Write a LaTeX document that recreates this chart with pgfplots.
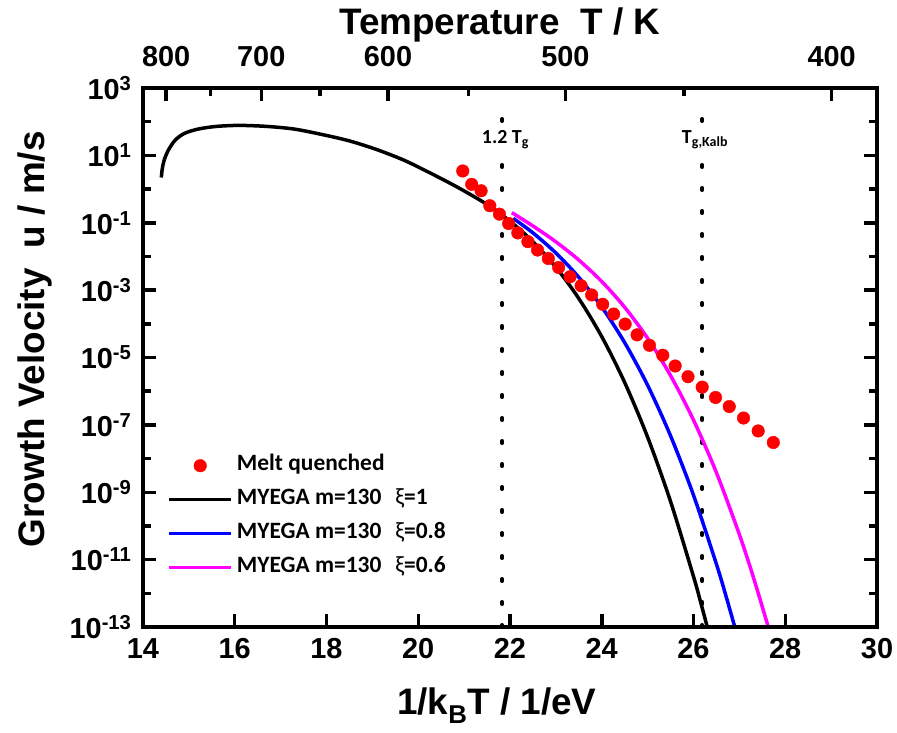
\documentclass[border=0pt]{standalone}
\usepackage{fontspec}
\setmainfont{Liberation Sans}
\newfontfamily\cali{Carlito}
\usepackage{pgfplots}
\pgfplotsset{compat=1.18}
\definecolor{pmag}{RGB}{255,0,255}
\definecolor{pblue}{RGB}{0,0,255}
\definecolor{pred}{RGB}{255,0,0}

\pgfplotsset{
  mybox/.style={
    at={(0bp,0bp)}, anchor=south west,
    scale only axis, width=734bp, height=539bp,
    xmin=14, xmax=30,
    axis on top,
    ticklabel style={font=\fontsize{29}{29}\selectfont\bfseries},
    label style={font=\fontsize{37}{37}\selectfont\bfseries},
    axis line style={line width=4bp},
    tick align=inside,
    xtick style={black, line width=3.5bp},
    ytick style={black, line width=3.5bp},
    major tick length=13bp,
    minor tick length=8bp,
  },
}

\begin{document}
\begin{tikzpicture}
\useasboundingbox (-143bp,-106bp) rectangle (754bp,627bp);

% temperature scale on top (ticks drawn as short grid pieces at the top edge)
\begin{axis}[mybox,
  ymin=0, ymax=1,
  axis x line*=top, axis y line=none,
  xtick={14.506,16.578,19.341,23.209,29.011},
  xticklabels={800,700,600,500,400},
  minor xtick={15.473,17.853,21.099,25.788},
  xmajorgrids, xminorgrids,
  major x grid style={black, line width=3.5bp, dash pattern=on 0bp off 526bp on 13bp off 2bp},
  minor x grid style={black, line width=3.5bp, dash pattern=on 0bp off 531bp on 8bp off 2bp},
  xticklabel style={yshift=18bp},
  xlabel={Temperature\ \ T / K},
  xlabel style={at={(axis description cs:0.486,1)}, anchor=base, yshift=53bp},
]
\end{axis}

\begin{axis}[mybox,
  ymode=log, ymin=1e-13, ymax=1e3,
  xtick={14,16,18,20,22,24,26,28,30},
  xticklabels={14,16,18,20,22,24,26,28,30},
  xtick pos=bottom,
  ytick={1e3,1e1,1e-1,1e-3,1e-5,1e-7,1e-9,1e-11,1e-13},
  yticklabels={10\textsuperscript{3},10\textsuperscript{1},10\textsuperscript{-1},10\textsuperscript{-3},10\textsuperscript{-5},10\textsuperscript{-7},10\textsuperscript{-9},10\textsuperscript{-11},10\textsuperscript{-13}},
  minor ytick={1e2,1e0,1e-2,1e-4,1e-6,1e-8,1e-10,1e-12},
  xmajorgrids, ymajorgrids, yminorgrids,
  major x grid style={black, line width=3.5bp, dash pattern=on 13bp off 600bp},
  major y grid style={black, line width=3.5bp, dash pattern=on 13bp off 708bp on 13bp off 2bp},
  minor y grid style={black, line width=3.5bp, dash pattern=on 8bp off 718bp on 8bp off 2bp},
  xticklabel style={yshift=-8bp},
  yticklabel style={xshift=-8bp},
  xlabel={1/k\textsubscript{B}T / 1/eV},
  ylabel={Growth Velocity\ \ u / m/s},
  xlabel style={at={(axis description cs:0.482,-0.162)}, anchor=base},
  ylabel style={at={(axis description cs:-0.147,0.534)}, anchor=center},
  legend style={draw=none, fill=none, at={(0.029,0.320)}, anchor=north west,
    font=\cali\bfseries\fontsize{23.5}{23.5}\selectfont, row sep=16bp,
    nodes={inner sep=0pt, text height=14bp, text depth=4bp}},
  legend cell align=left,
  /tikz/every odd column/.append style={column sep=4bp},
  legend image code/.code={\draw[mark repeat=2,mark phase=2,#1] plot coordinates {(0bp,0bp) (31bp,0bp) (62bp,0bp)};},
]
\addlegendimage{only marks, mark=*, mark size=6.3bp, pred, fill=pred}
\addlegendentry{Melt quenched}

% 1.2 Tg and Tg,Kalb
\addplot[forget plot, black, line width=4bp, line cap=round, dash pattern=on 2bp off 21bp]
  coordinates {(21.83,1e-13) (21.83,380)};
\addplot[forget plot, black, line width=4bp, line cap=round, dash pattern=on 2bp off 21bp]
  coordinates {(26.19,1e-13) (26.19,380)};

\addplot[black, line width=3.5bp, smooth] coordinates {
 (14.40,2.2) (14.42,4.0) (14.46,7.1) (14.55,14.1) (14.70,28.2) (14.90,44.7)
 (15.20,60.3) (15.60,72.4) (16.10,77.6) (16.70,72.4) (17.30,60.3) (17.90,41.7)
 (18.50,26.9) (19.10,14.8) (19.70,7.08) (20.30,2.82) (20.90,1.05) (21.50,0.348)
 (22.00,0.111) (22.50,0.0274) (23.00,4.80e-3) (23.50,5.64e-4) (24.00,4.17e-5)
 (24.50,1.81e-6) (25.00,4.32e-8) (25.50,5.32e-10) (26.00,3.16e-12) (26.15,5.82e-13)
 (26.30,1e-13)};
\addlegendentry{MYEGA m=130\hspace{14bp}{\mdseries ξ}=1}

\addplot[pblue, line width=3.5bp, smooth] coordinates {
 (22.07,0.135) (22.50,0.0501) (23.00,0.01265) (23.50,2.40e-3) (24.00,3.16e-4)
 (24.50,2.76e-5) (25.00,1.50e-6) (25.50,4.73e-8) (26.00,8.20e-10) (26.50,7.33e-12)
 (26.70,9.1e-13) (26.90,1e-13)};
\addlegendentry{MYEGA m=130\hspace{14bp}{\mdseries ξ}=0.8}

\addplot[pmag, line width=3.5bp, smooth] coordinates {
 (22.04,0.2) (22.50,0.0802) (23.00,0.0272) (23.50,7.83e-3) (24.00,1.80e-3)
 (24.50,3.10e-4) (25.00,3.72e-5) (25.50,2.91e-6) (26.00,1.39e-7) (26.50,3.81e-9)
 (27.00,5.56e-11) (27.30,3.16e-12) (27.63,1e-13)};
\addlegendentry{MYEGA m=130\hspace{14bp}{\mdseries ξ}=0.6}

\addplot[forget plot, only marks, mark=*, mark size=6.3bp, pred, fill=pred] coordinates {
 (20.97,3.44) (21.165,1.38) (21.37,0.89) (21.56,0.32) (21.77,0.18) (21.97,0.095)
 (22.17,0.050) (22.39,0.0275) (22.60,0.0155) (22.835,8.7e-3) (23.06,4.7e-3)
 (23.31,2.5e-3) (23.55,1.35e-3) (23.78,7.2e-4) (24.02,3.8e-4) (24.26,1.95e-4)
 (24.51,9.8e-5) (24.77,4.7e-5) (25.04,2.3e-5) (25.33,1.17e-5) (25.60,5.6e-6)
 (25.88,2.7e-6) (26.19,1.32e-6) (26.48,6.5e-7) (26.78,3.5e-7) (27.09,1.6e-7)
 (27.41,6.6e-8) (27.74,3.0e-8)};

\node[fill=white, inner sep=2bp, font=\cali\bfseries\fontsize{20}{20}\selectfont]
  at (axis cs:21.9,29) {1.2 T\textsubscript{g}};
\node[fill=white, inner sep=2bp, font=\cali\bfseries\fontsize{20}{20}\selectfont]
  at (axis cs:26.25,29) {T\textsubscript{g,Kalb}};
\end{axis}
\end{tikzpicture}
\end{document}
